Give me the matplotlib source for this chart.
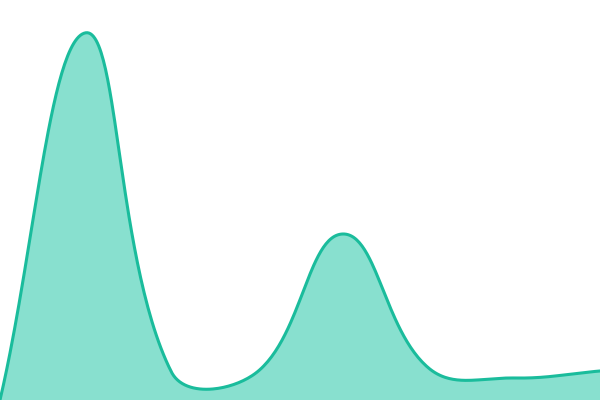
import numpy as np
import matplotlib
matplotlib.use("Agg")
import matplotlib.pyplot as plt

# values (y scale 0..100, x = sample index)
steps = [0, 1, 2, 3, 4, 5, 6, 7]
values = [0, 91.8, 7.0, 7.0, 41.5, 8.0, 5.5, 7.25]

W, H = 600, 400
TENSION = 0.4


def spline(xs, ys, tension=TENSION, n=60):
    # bezier spline like chart.js, control points worked out in pixels
    px = np.asarray(xs, float) * W / (len(xs) - 1)
    py = np.asarray(ys, float) * H / 100
    pts = np.column_stack([px, py])
    cnt = len(pts)
    prev_cp = pts.copy()
    next_cp = pts.copy()
    for i in range(cnt):
        prv = pts[max(i - 1, 0)]
        cur = pts[i]
        nxt = pts[min(i + 1, cnt - 1)]
        d01 = np.hypot(*(cur - prv))
        d12 = np.hypot(*(nxt - cur))
        tot = d01 + d12
        s01 = d01 / tot if tot else 0
        s12 = d12 / tot if tot else 0
        prev_cp[i] = cur - tension * s01 * (nxt - prv)
        next_cp[i] = cur + tension * s12 * (nxt - prv)
    # keep control points inside the drawing area
    for cp in (prev_cp, next_cp):
        cp[:, 0] = np.clip(cp[:, 0], 0, W)
        cp[:, 1] = np.clip(cp[:, 1], 0, H)
    t = np.linspace(0, 1, n)[:, None]
    out = []
    for i in range(cnt - 1):
        p1, c1, c2, p2 = pts[i], next_cp[i], prev_cp[i + 1], pts[i + 1]
        seg = (1 - t) ** 3 * p1 + 3 * (1 - t) ** 2 * t * c1 + 3 * (1 - t) * t ** 2 * c2 + t ** 3 * p2
        out.append(seg)
    out = np.concatenate(out)
    return out[:, 0] * (len(xs) - 1) / W, out[:, 1] * 100 / H


sx, sy = spline(steps, values)

fig = plt.figure(figsize=(6, 4), dpi=100)
ax = fig.add_axes([0, 0, 1, 1])
ax.fill_between(sx, sy, 0, color="#88e0cf", linewidth=0)
ax.plot(sx, sy, color="#1abc9c", linewidth=2.2, solid_capstyle="round")
ax.set_xlim(0, steps[-1])
ax.set_ylim(0, 100)
ax.axis("off")

fig.savefig("out.png", dpi=100)
